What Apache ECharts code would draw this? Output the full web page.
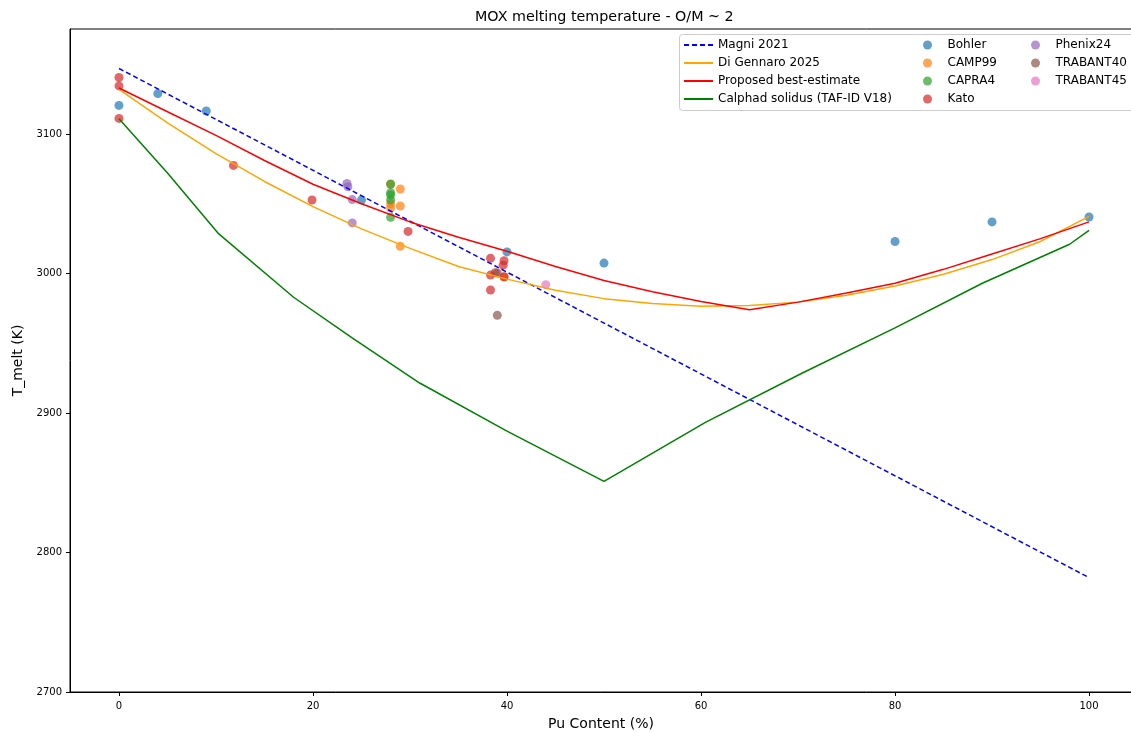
<!DOCTYPE html>
<html>
<head>
<meta charset="utf-8">
<script src="https://cdn.jsdelivr.net/npm/echarts@6/dist/echarts.min.js"></script>
<style>
  html, body { margin: 0; padding: 0; background: #fff; }
  #chart { width: 1131px; height: 733px; }
</style>
</head>
<body>
<div id="chart"></div>
<script>
// 曲线数据 (Pu %, K)
var magniX = [0, 100];
var magniT = [3147, 2782];

var diGennaroX = [0, 5, 10, 15, 20, 25, 30, 35, 40, 45, 50, 55, 60, 65, 70, 75, 80, 85, 90, 95, 100];
var diGennaroT = [3132, 3108, 3086, 3066, 3048, 3032, 3018, 3005, 2996, 2988, 2982, 2978.5, 2976.5, 2977, 2979.5, 2984.5, 2991, 2999.5, 3010, 3023, 3041];

var proposedX = [0, 5, 10, 15, 20, 25, 30, 35, 40, 45, 50, 55, 60, 65, 70, 75, 80, 85, 90, 95, 100];
var proposedT = [3133, 3116, 3099, 3081, 3064, 3050, 3037, 3026, 3016, 3005, 2995, 2987, 2980, 2974, 2979.5, 2986, 2993, 3003, 3014, 3025, 3037];

var calphadX = [0, 5, 10.2, 18, 24, 31, 40, 50, 60.5, 70.4, 80, 89, 98, 100];
var calphadT = [3111, 3072, 3029, 2983, 2954, 2921.5, 2887, 2851, 2893.5, 2928.5, 2961, 2993, 3021, 3031];

// 实验点
var bohler = [[0, 3120.5], [4, 3129], [9, 3116.5], [25, 3052.7], [40, 3015.5], [50, 3007.5], [80, 3023], [90, 3037], [100, 3040.5]];
var camp99 = [[28, 3064], [28, 3050], [28, 3047], [29, 3060.6], [29, 3048.4], [29, 3019.5], [39.7, 2997.5]];
var capra4 = [[28, 3064.2], [28, 3058], [28, 3056.3], [28, 3052.7], [28, 3040.3]];
var kato = [[0, 3140.5], [0, 3134.5], [0, 3111.2], [11.8, 3077.5], [19.9, 3052.7], [29.8, 3030.2], [38.3, 3010.9], [39.7, 3009.2], [39.6, 3006], [38.3, 2998.9], [39.7, 2997.7], [38.8, 3000.6], [38.3, 2988.2]];
var phenix24 = [[23.5, 3064.5], [23.6, 3062.2], [24.05, 3053], [24.05, 3036.3]];
var trabant40 = [[39, 3000.3], [39, 2970]];
var trabant45 = [[44, 2992]];

// 刻度
var xTicks = [0, 20, 40, 60, 80, 100];
var yTicks = [2700, 2800, 2900, 3000, 3100];

function pairs(xs, ys) {
    return xs.map(function (x, i) { return [x, ys[i]]; });
}

var chart = echarts.init(document.getElementById('chart'));
var font = 'DejaVu Sans';

function scatter(name, data, color) {
    return {
        name: name,
        type: 'scatter',
        data: data,
        symbolSize: 9,
        itemStyle: { color: color, opacity: 0.7 },
        z: 2
    };
}

function line(name, xs, ys, color, dashed) {
    return {
        name: name,
        type: 'line',
        data: pairs(xs, ys),
        symbol: 'none',
        smooth: false,
        lineStyle: { color: color, width: 1.5, type: dashed ? [5, 3] : 'solid' },
        itemStyle: { color: color },
        z: 3
    };
}

var legendText = { fontFamily: font, fontSize: 12, color: '#000', lineHeight: 12 };

var option = {
    animation: false,
    backgroundColor: '#fff',
    title: {
        text: 'MOX melting temperature - O/M ~ 2',
        left: 475,
        top: 10,
        padding: 0,
        textStyle: { fontFamily: font, fontSize: 14.3, fontWeight: 'normal', color: '#000' }
    },
    grid: {
        left: 70, top: 29, right: -1, bottom: 41,
        outerBoundsMode: 'none',
        containLabel: false,
        show: true, borderColor: '#000', borderWidth: 1
    },
    legend: [
        {
            orient: 'vertical', left: 683, top: 39, padding: 0, z: 6,
            itemWidth: 29, itemHeight: 12, itemGap: 6,
            itemStyle: { opacity: 0 },
            data: ['Magni 2021', 'Di Gennaro 2025', 'Proposed best-estimate', 'Calphad solidus (TAF-ID V18)'],
            textStyle: legendText
        },
        {
            orient: 'vertical', left: 923, top: 39, padding: 0, z: 6,
            itemWidth: 30, itemHeight: 9, itemGap: 6,
            icon: 'circle',
            data: ['Bohler', 'CAMP99', 'CAPRA4', 'Kato'],
            textStyle: legendText
        },
        {
            orient: 'vertical', left: 1031, top: 39, padding: 0, z: 6,
            itemWidth: 30, itemHeight: 9, itemGap: 6,
            icon: 'circle',
            data: ['Phenix24', 'TRABANT40', 'TRABANT45'],
            textStyle: legendText
        }
    ],
    graphic: [{
        type: 'rect',
        shape: { x: 679.5, y: 34.5, width: 470, height: 76, r: 3 },
        style: { fill: 'rgba(255,255,255,0.8)', stroke: '#cccccc', lineWidth: 1 },
        z: 4
    }],
    xAxis: {
        type: 'value',
        min: -5.05,
        max: 104.43,
        name: 'Pu Content (%)',
        nameLocation: 'middle',
        nameGap: 25,
        nameTextStyle: { fontFamily: font, fontSize: 14, color: '#000' },
        splitLine: { show: false },
        axisLine: { onZero: false, lineStyle: { color: '#000', width: 1 } },
        axisTick: { show: true, length: 4, customValues: xTicks, lineStyle: { color: '#000' } },
        axisLabel: { customValues: xTicks, margin: 9, fontFamily: font, fontSize: 10, color: '#000' }
    },
    yAxis: {
        type: 'value',
        min: 2700,
        max: 3175.3,
        name: 'T_melt (K)',
        nameLocation: 'middle',
        nameGap: 42,
        nameTextStyle: { fontFamily: font, fontSize: 14, color: '#000' },
        splitLine: { show: false },
        axisLine: { show: true, onZero: false, lineStyle: { color: '#000', width: 1 } },
        axisTick: { show: true, length: 4, customValues: yTicks, lineStyle: { color: '#000' } },
        axisLabel: {
            customValues: yTicks, margin: 8, fontFamily: font, fontSize: 10, color: '#000',
            formatter: function (v) { return String(v); }
        }
    },
    series: [
        scatter('Bohler', bohler, '#1f77b4'),
        scatter('CAMP99', camp99, '#ff7f0e'),
        scatter('CAPRA4', capra4, '#2ca02c'),
        scatter('Kato', kato, '#d62728'),
        scatter('Phenix24', phenix24, '#9467bd'),
        scatter('TRABANT40', trabant40, '#8c564b'),
        scatter('TRABANT45', trabant45, '#e377c2'),
        line('Magni 2021', magniX, magniT, '#0000ff', true),
        line('Di Gennaro 2025', diGennaroX, diGennaroT, '#ffa500', false),
        line('Proposed best-estimate', proposedX, proposedT, '#ff0000', false),
        line('Calphad solidus (TAF-ID V18)', calphadX, calphadT, '#008000', false)
    ]
};

chart.setOption(option);
</script>
</body>
</html>
